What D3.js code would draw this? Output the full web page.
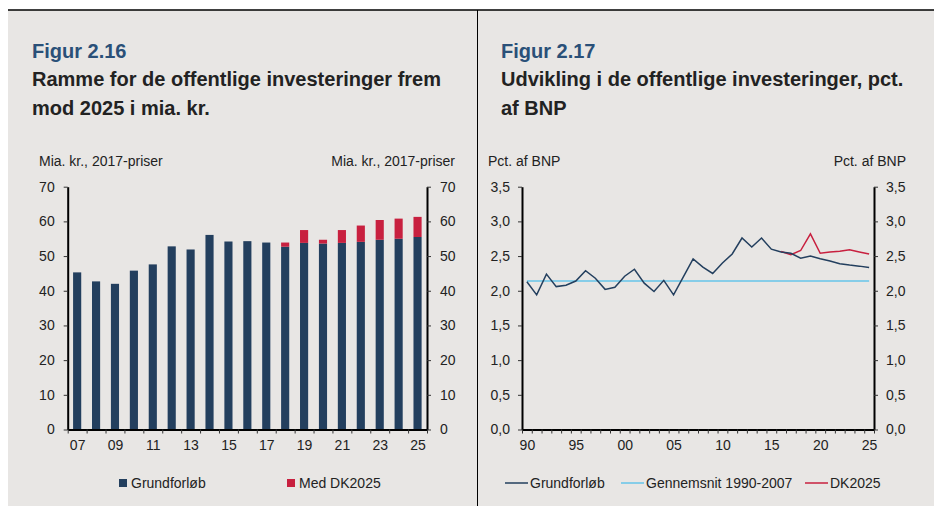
<!DOCTYPE html>
<html>
<head>
<meta charset="utf-8">
<script src="https://cdn.jsdelivr.net/npm/d3@7"></script>
<style>
  body { margin: 0; background: #fff; }
  svg { display: block; font-family: "Liberation Sans", Arial, sans-serif; }
  .axis path.domain { stroke: #000; stroke-width: 2; }
  .axis line { stroke: #333; }
  .axis text { font-family: "Liberation Sans", Arial, sans-serif; font-size: 14px; fill: #222; }
  .title { font-weight: bold; font-size: 20px; fill: #222; }
  .fig { fill: #2a5078; }
  .unit, .legend text { font-size: 14px; fill: #222; }
</style>
</head>
<body>
<div id="chart"></div>
<script>
// Figur 2.16 - mia. kr., 2017-priser
var barYears = [2007, 2008, 2009, 2010, 2011, 2012, 2013, 2014, 2015, 2016,
                2017, 2018, 2019, 2020, 2021, 2022, 2023, 2024, 2025];
var grundBar = [45.3, 42.7, 42.0, 45.8, 47.6, 52.8, 51.9, 56.1, 54.2, 54.3,
                53.9, 52.7, 53.8, 53.6, 53.8, 54.1, 54.7, 55.0, 55.5];
var dkBar    = [0, 0, 0, 0, 0, 0, 0, 0, 0, 0,
                0, 1.2, 3.7, 1.1, 3.7, 4.7, 5.7, 5.8, 5.8];
var barTicks = [0, 10, 20, 30, 40, 50, 60, 70];
var barLabels = [2007, 2009, 2011, 2013, 2015, 2017, 2019, 2021, 2023, 2025];

// Figur 2.17 - pct. af BNP
var lineYears = [1990, 1991, 1992, 1993, 1994, 1995, 1996, 1997, 1998, 1999,
                 2000, 2001, 2002, 2003, 2004, 2005, 2006, 2007, 2008, 2009,
                 2010, 2011, 2012, 2013, 2014, 2015, 2016, 2017, 2018, 2019,
                 2020, 2021, 2022, 2023, 2024, 2025];
var grundLine = [2.13, 1.94, 2.24, 2.06, 2.08, 2.14, 2.29, 2.18, 2.02, 2.05,
                 2.21, 2.31, 2.11, 1.99, 2.15, 1.94, 2.20, 2.46, 2.34, 2.25,
                 2.40, 2.53, 2.76, 2.63, 2.76, 2.60, 2.56, 2.54, 2.47, 2.50,
                 2.46, 2.43, 2.39, 2.37, 2.355, 2.335];
var dkYears = [2016, 2017, 2018, 2019, 2020, 2021, 2022, 2023, 2024, 2025];
var dkLine  = [2.565, 2.52, 2.58, 2.82, 2.54, 2.56, 2.57, 2.59, 2.56, 2.53];
var avgValue = 2.14;
var lineTicks = [0, 0.5, 1, 1.5, 2, 2.5, 3, 3.5];
var lineLabels = [1990, 1995, 2000, 2005, 2010, 2015, 2020, 2025];

var navy = "#233f5e";
var red = "#c8203f";
var lightBlue = "#66c4ea";

function init() {

  var w = 934;
  var h = 506;
  var top = 186.7;
  var bottom = 429.5;

  var svg = d3.select("#chart")
    .append("svg")
    .attr("width", w)
    .attr("height", h);

  svg.append("rect")
    .attr("x", 8).attr("y", 10)
    .attr("width", w - 8).attr("height", h - 10)
    .attr("fill", "#e8e6e4");

  svg.append("line")
    .attr("x1", 8).attr("x2", w).attr("y1", 10).attr("y2", 10)
    .attr("stroke", "#000").attr("stroke-width", 1.5);

  svg.append("line")
    .attr("x1", 477.5).attr("x2", 477.5).attr("y1", 10).attr("y2", h)
    .attr("stroke", "#000").attr("stroke-width", 1);

  // titles
  function title(x, lines) {
    var t = svg.append("text").attr("class", "title");
    lines.forEach(function(s, i) {
      t.append("tspan")
        .attr("x", x)
        .attr("y", 58 + i * 28.3)
        .attr("class", i == 0 ? "fig" : null)
        .text(s);
    });
  }
  title(32, ["Figur 2.16", "Ramme for de offentlige investeringer frem", "mod 2025 i mia. kr."]);
  title(501, ["Figur 2.17", "Udvikling i de offentlige investeringer, pct.", "af BNP"]);

  // ---------- left chart: bars ----------
  var L1 = 67.7, R1 = 427;

  var xBand = d3.scaleBand()
    .domain(barYears)
    .range([L1, R1])
    .paddingInner(0.57)
    .paddingOuter(0.285);

  var xEdge = d3.scaleLinear()
    .domain([barYears[0] - 0.5, barYears[barYears.length - 1] + 0.5])
    .range([L1, R1]);

  var yBar = d3.scaleLinear()
    .domain([0, 70])
    .range([bottom, top]);

  var stackData = barYears.map(function(y, i) {
    return { year: y, grund: grundBar[i], dk: dkBar[i] };
  });
  var series = d3.stack().keys(["grund", "dk"])(stackData);
  var colors = { grund: navy, dk: red };

  svg.append("g")
    .selectAll("g")
    .data(series)
    .enter()
    .append("g")
    .attr("fill", function(d) { return colors[d.key]; })
    .selectAll("rect")
    .data(function(d) { return d; })
    .enter()
    .append("rect")
    .attr("x", function(d) { return xBand(d.data.year); })
    .attr("width", xBand.bandwidth())
    .attr("y", function(d) { return yBar(d[1]); })
    .attr("height", function(d) { return yBar(d[0]) - yBar(d[1]); });

  svg.append("g")
    .attr("class", "axis")
    .attr("transform", "translate(" + L1 + ",0)")
    .call(d3.axisLeft(yBar).tickValues(barTicks).tickSize(4).tickSizeOuter(0).tickPadding(9));

  svg.append("g")
    .attr("class", "axis")
    .attr("transform", "translate(" + R1 + ",0)")
    .call(d3.axisRight(yBar).tickValues(barTicks).tickSize(4).tickSizeOuter(0).tickPadding(9));

  svg.append("g")
    .attr("class", "axis")
    .attr("transform", "translate(0," + bottom + ")")
    .call(d3.axisBottom(xEdge)
      .tickValues(d3.range(barYears[0] - 0.5, barYears[barYears.length - 1] + 1, 1))
      .tickFormat("")
      .tickSize(4)
      .tickSizeOuter(0));

  svg.append("g")
    .attr("class", "axis")
    .attr("transform", "translate(0," + bottom + ")")
    .call(d3.axisBottom(xEdge)
      .tickValues(barLabels)
      .tickFormat(function(d) { return String(d % 100).padStart(2, "0"); })
      .tickSize(0)
      .tickSizeOuter(0)
      .tickPadding(11))
    .select(".domain").remove();

  svg.append("text").attr("class", "unit")
    .attr("x", 39).attr("y", 166).text("Mia. kr., 2017-priser");
  svg.append("text").attr("class", "unit")
    .attr("x", 455).attr("y", 166).attr("text-anchor", "end").text("Mia. kr., 2017-priser");

  // ---------- right chart: lines ----------
  var L2 = 522, R2 = 874;
  var comma = d3.formatLocale({ decimal: ",", thousands: ".", grouping: [3], currency: ["", " kr."] });

  var xLine = d3.scaleLinear()
    .domain([lineYears[0] - 0.5, lineYears[lineYears.length - 1] + 0.5])
    .range([L2, R2]);

  var yLine = d3.scaleLinear()
    .domain([0, 3.5])
    .range([bottom, top]);

  var line = d3.line()
    .x(function(d) { return xLine(d[0]); })
    .y(function(d) { return yLine(d[1]); });

  svg.append("path")
    .datum(lineYears.map(function(y) { return [y, avgValue]; }))
    .attr("d", line)
    .attr("fill", "none")
    .attr("stroke", lightBlue)
    .attr("stroke-width", 1.5);

  svg.append("path")
    .datum(dkYears.map(function(y, i) { return [y, dkLine[i]]; }))
    .attr("d", line)
    .attr("fill", "none")
    .attr("stroke", red)
    .attr("stroke-width", 1.5);

  svg.append("path")
    .datum(lineYears.map(function(y, i) { return [y, grundLine[i]]; }))
    .attr("d", line)
    .attr("fill", "none")
    .attr("stroke", navy)
    .attr("stroke-width", 1.5);

  svg.append("g")
    .attr("class", "axis")
    .attr("transform", "translate(" + L2 + ",0)")
    .call(d3.axisLeft(yLine).tickValues(lineTicks).tickSize(4).tickSizeOuter(0).tickPadding(8)
      .tickFormat(comma.format(".1f")));

  svg.append("g")
    .attr("class", "axis")
    .attr("transform", "translate(" + R2 + ",0)")
    .call(d3.axisRight(yLine).tickValues(lineTicks).tickSize(4).tickSizeOuter(0).tickPadding(8)
      .tickFormat(comma.format(".1f")));

  svg.append("g")
    .attr("class", "axis")
    .attr("transform", "translate(0," + bottom + ")")
    .call(d3.axisBottom(xLine)
      .tickValues(d3.range(lineYears[0] - 0.5, lineYears[lineYears.length - 1] + 1, 1))
      .tickFormat("")
      .tickSize(4)
      .tickSizeOuter(0));

  svg.append("g")
    .attr("class", "axis")
    .attr("transform", "translate(0," + bottom + ")")
    .call(d3.axisBottom(xLine)
      .tickValues(lineLabels)
      .tickFormat(function(d) { return String(d % 100).padStart(2, "0"); })
      .tickSize(0)
      .tickSizeOuter(0)
      .tickPadding(11))
    .select(".domain").remove();

  svg.append("text").attr("class", "unit")
    .attr("x", 488).attr("y", 166).text("Pct. af BNP");
  svg.append("text").attr("class", "unit")
    .attr("x", 906).attr("y", 166).attr("text-anchor", "end").text("Pct. af BNP");

  // ---------- legends ----------
  var barLegend = svg.append("g").attr("class", "legend");
  [["Grundforløb", navy, 119], ["Med DK2025", red, 287]].forEach(function(d) {
    barLegend.append("rect")
      .attr("x", d[2]).attr("y", 479).attr("width", 8).attr("height", 8)
      .attr("fill", d[1]);
    barLegend.append("text")
      .attr("x", d[2] + 12).attr("y", 488).text(d[0]);
  });

  var lineLegend = svg.append("g").attr("class", "legend");
  [["Grundforløb", navy, 505], ["Gennemsnit 1990-2007", lightBlue, 621], ["DK2025", red, 805]].forEach(function(d) {
    lineLegend.append("line")
      .attr("x1", d[2]).attr("x2", d[2] + 23).attr("y1", 483).attr("y2", 483)
      .attr("stroke", d[1]).attr("stroke-width", 1.5);
    lineLegend.append("text")
      .attr("x", d[2] + 25).attr("y", 488).text(d[0]);
  });
}

window.onload = init;
</script>
</body>
</html>
